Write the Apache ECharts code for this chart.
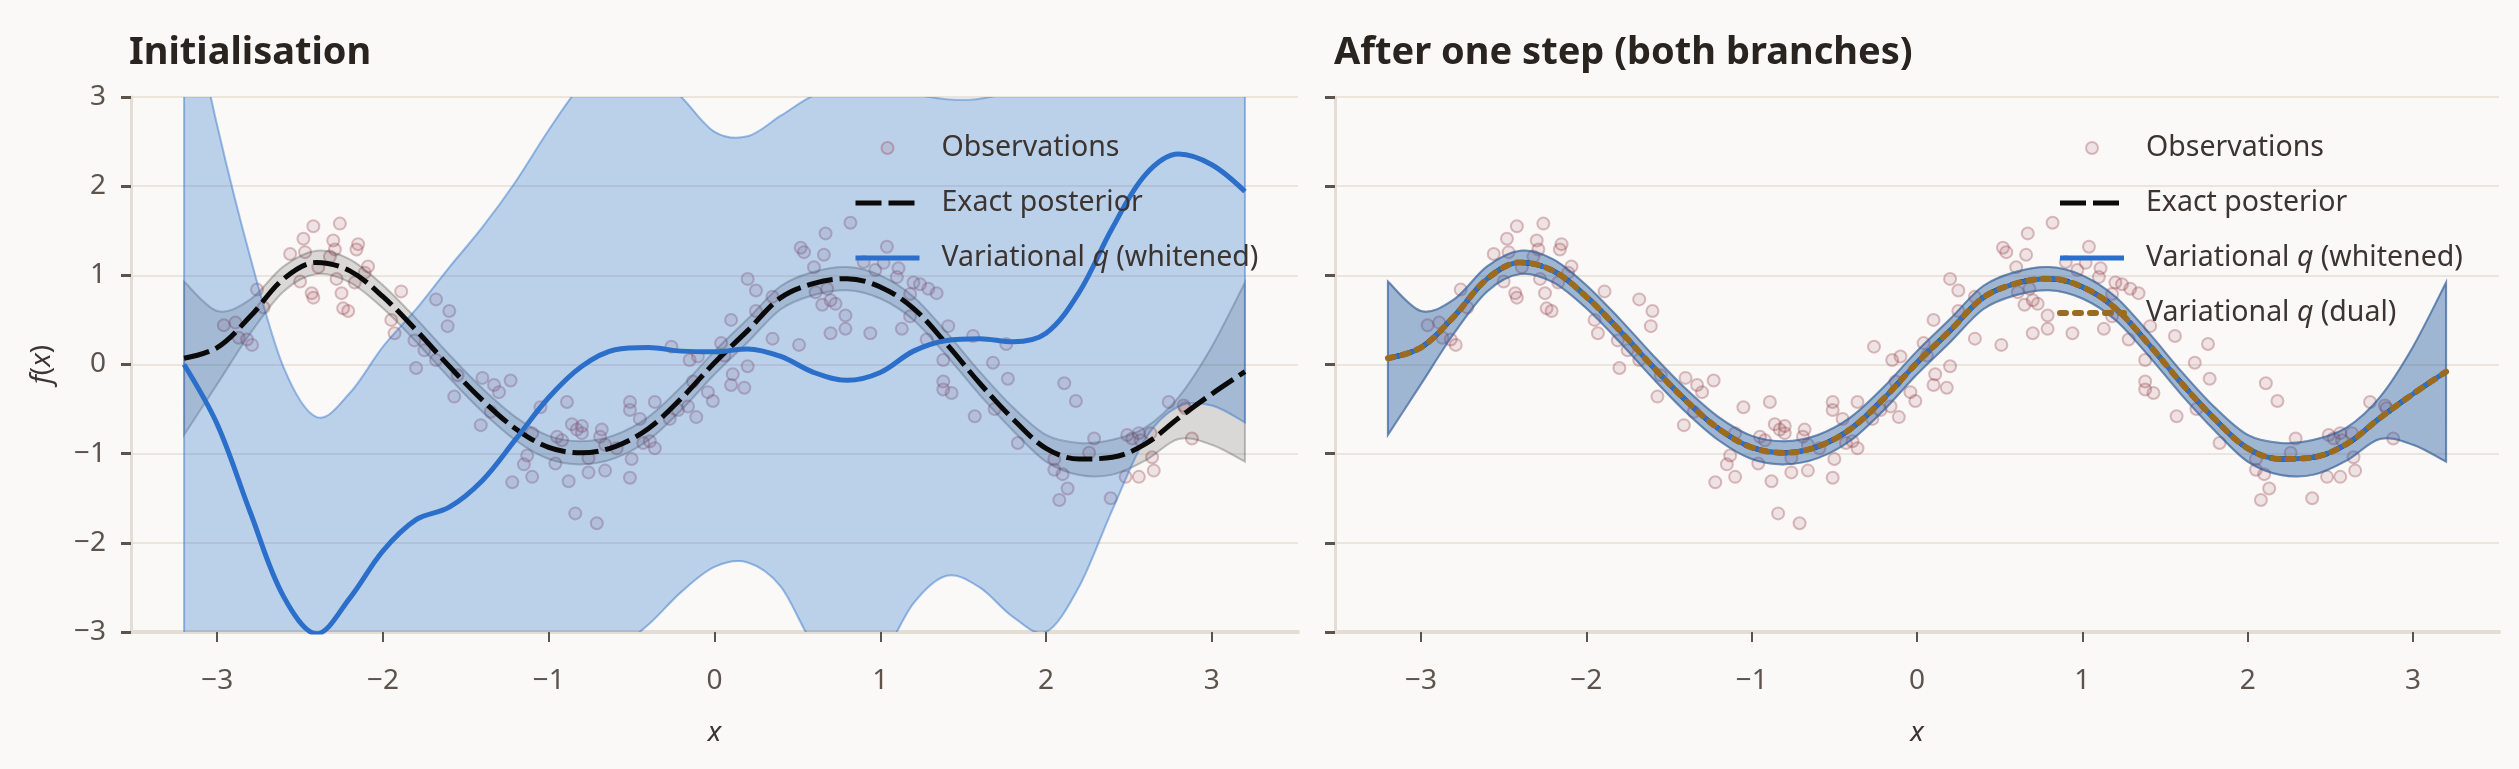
<!DOCTYPE html>
<html>
<head>
<meta charset="utf-8">
<title>Whitened vs dual variational posterior</title>
<script src="https://cdn.jsdelivr.net/npm/echarts@6.0.0/dist/echarts.min.js"></script>
<style>
  html, body { margin: 0; background: #faf9f7; }
  #chart { width: 2519px; height: 769px; }
</style>
</head>
<body>
<div id="chart"></div>
<script>
// x grid shared by every curve and band
const xs = [-3.2, -3.0, -2.8, -2.6, -2.4, -2.2, -2.0, -1.8, -1.6, -1.4, -1.2, -1.0, -0.8, -0.6, -0.4, -0.2, 0.0,
  0.2, 0.4, 0.6, 0.8, 1.0, 1.2, 1.4, 1.6, 1.8, 2.0, 2.2, 2.4, 2.6, 2.8, 3.0, 3.2];

// exact posterior mean and its band (also what both branches reach after one step)
const exactMean = [0.07, 0.19, 0.54, 0.96, 1.145, 1.05, 0.76, 0.385, -0.02, -0.40, -0.72, -0.93, -0.99, -0.92, -0.72, -0.38, 0.02,
  0.38, 0.75, 0.91, 0.963, 0.87, 0.63, 0.23, -0.21, -0.61, -0.94, -1.06, -1.04, -0.89, -0.60, -0.33, -0.08];
const exactUpper = [0.93, 0.60, 0.73, 1.10, 1.275, 1.18, 0.89, 0.515, 0.11, -0.27, -0.59, -0.80, -0.86, -0.79, -0.59, -0.25, 0.15,
  0.51, 0.88, 1.04, 1.093, 1.00, 0.76, 0.36, -0.08, -0.48, -0.79, -0.88, -0.845, -0.705, -0.365, 0.20, 0.92];
const exactLower = [-0.79, -0.22, 0.35, 0.82, 1.015, 0.92, 0.63, 0.255, -0.15, -0.53, -0.85, -1.06, -1.12, -1.05, -0.85, -0.51, -0.11,
  0.25, 0.62, 0.78, 0.833, 0.74, 0.50, 0.10, -0.34, -0.74, -1.09, -1.24, -1.235, -1.075, -0.835, -0.90, -1.09];

// whitened q at initialisation
const initMean = [0.0, -0.67, -1.66, -2.6, -3.02, -2.62, -2.09, -1.74, -1.60, -1.30, -0.84, -0.37, -0.02, 0.165, 0.19, 0.15, 0.142,
  0.175, 0.09, -0.09, -0.178, -0.09, 0.15, 0.27, 0.29, 0.255, 0.35, 0.81, 1.53, 2.13, 2.36, 2.24, 1.94];
const initUpper = [4.4, 2.68, 1.2, -0.03, -0.59, -0.32, 0.2, 0.62, 1.09, 1.54, 2.05, 2.63, 3.15, 3.5, 3.35, 3.0, 2.61,
  2.56, 2.79, 3.02, 3.12, 3.08, 3.03, 2.975, 2.98, 3.1, 3.5, 4.0, 4.4, 4.7, 4.9, 4.85, 4.6];
const initLower = [-3.6, -3.9, -4.5, -5.0, -5.4, -5.0, -4.6, -4.3, -4.1, -3.9, -3.7, -3.5, -3.35, -3.2, -2.92, -2.55, -2.27,
  -2.22, -2.49, -3.15, -3.45, -3.3, -2.68, -2.37, -2.5, -2.83, -3.0, -2.49, -1.63, -0.83, -0.47, -0.46, -0.65];

// noisy observations
const obsX = [
  -2.96, -2.89, -2.87, -2.82, -2.79, -2.76, -2.72, -2.56, -2.48, -2.47,
  -2.42, -2.50, -2.43, -2.42, -2.39, -2.32, -2.30, -2.29, -2.28, -2.26,
  -2.25, -2.24, -2.21, -2.17, -2.16, -2.15, -2.09, -2.11, -1.95, -1.93,
  -1.89, -1.81, -1.80, -1.75, -1.68, -1.68, -1.61, -1.60, -1.57, -1.55,
  -1.41, -1.40, -1.35, -1.33, -1.30, -1.23, -1.22, -1.15, -1.13, -1.10,
  -1.10, -1.05, -0.96, -0.95, -0.92, -0.89, -0.88, -0.86, -0.84, -0.83,
  -0.80, -0.80, -0.76, -0.76, -0.71, -0.68, -0.69, -0.66, -0.66, -0.59,
  -0.51, -0.51, -0.50, -0.51, -0.45, -0.43, -0.39, -0.36, -0.36, -0.26,
  -0.27, -0.22, -0.16, -0.15, -0.11, -0.10, -0.13, -0.04, -0.01,
  0.04, 0.06, 0.10, 0.11, 0.18, 0.20, 0.10, 0.20, 0.25, 0.25,
  0.35, 0.35, 0.51, 0.52, 0.54, 0.60, 0.61, 0.66, 0.67, 0.65,
  0.68, 0.70, 0.70, 0.73, 0.79, 0.79, 0.82, 0.90, 0.94, 0.97,
  1.04, 1.02, 1.11, 1.10, 1.13, 1.18, 1.18, 1.20, 1.24, 1.29,
  1.34, 1.28, 1.38, 1.38, 1.38, 1.43, 1.41, 1.56, 1.57, 1.68,
  1.69, 1.76, 1.77, 1.83, 2.05, 2.05, 2.10, 2.08, 2.13, 2.11,
  2.18, 2.26, 2.29, 2.39, 2.48, 2.49, 2.52, 2.56, 2.56, 2.57,
  2.63, 2.64, 2.65, 2.74, 2.83, 2.84, 2.88];
const obsY = [
  0.44, 0.47, 0.30, 0.28, 0.22, 0.84, 0.64, 1.24, 1.41, 1.26,
  1.55, 0.93, 0.80, 0.75, 1.09, 1.21, 1.39, 1.29, 0.96, 1.58,
  0.80, 0.63, 0.60, 0.92, 1.29, 1.35, 1.10, 1.03, 0.50, 0.35,
  0.82, 0.27, -0.04, 0.16, 0.73, 0.05, 0.43, 0.60, -0.36, -0.12,
  -0.68, -0.15, -0.53, -0.23, -0.31, -0.18, -1.32, -1.12, -1.02, -1.26,
  -0.77, -0.48, -1.11, -0.81, -0.85, -0.42, -1.31, -0.67, -1.67, -0.73,
  -0.69, -0.77, -1.21, -1.05, -1.78, -0.73, -0.81, -1.19, -0.90, -0.94,
  -0.42, -0.51, -1.06, -1.27, -0.61, -0.88, -0.86, -0.42, -0.94, 0.20,
  -0.61, -0.51, -0.47, 0.05, -0.59, 0.09, -0.19, -0.31, -0.41,
  0.24, 0.10, -0.23, -0.11, -0.26, -0.02, 0.50, 0.96, 0.83, 0.60,
  0.76, 0.29, 0.22, 1.31, 1.26, 1.09, 0.81, 1.23, 1.47, 0.67,
  0.85, 0.72, 0.35, 0.68, 0.55, 0.40, 1.59, 1.15, 0.35, 1.06,
  1.32, 1.14, 1.08, 0.98, 0.40, 0.79, 0.54, 0.92, 0.90, 0.85,
  0.80, 0.28, 0.05, -0.19, -0.28, -0.32, 0.43, 0.32, -0.58, 0.02,
  -0.50, 0.23, -0.16, -0.88, -1.06, -1.18, -1.23, -1.52, -1.39, -0.21,
  -0.41, -0.99, -0.83, -1.50, -1.26, -0.79, -0.83, -1.26, -0.77, -0.85,
  -0.77, -1.04, -1.19, -0.42, -0.46, -0.49, -0.83];

const xTicks = [-3, -2, -1, 0, 1, 2, 3];

const font = '"Noto Sans", "DejaVu Sans", sans-serif';
const tickColor = '#5c534d';
const textColor = '#3b3431';
const blue = '#2b6fca';
const black = '#0a0a0a';
const brown = '#9b6b20';
const exactDash = [26, 7];
const dualDash = [6, 9];
const minus = v => String(v).replace('-', '\u2212');

function pts(ys) {
  return xs.map((x, i) => [x, ys[i]]);
}

// Catmull-Rom through pixel points, as cubic bezier commands
function spline(p) {
  let d = '';
  for (let i = 0; i < p.length - 1; i++) {
    const p0 = p[Math.max(i - 1, 0)], p1 = p[i], p2 = p[i + 1], p3 = p[Math.min(i + 2, p.length - 1)];
    const c1 = [p1[0] + (p2[0] - p0[0]) / 6, p1[1] + (p2[1] - p0[1]) / 6];
    const c2 = [p2[0] - (p3[0] - p1[0]) / 6, p2[1] - (p3[1] - p1[1]) / 6];
    d += ' C' + c1 + ' ' + c2 + ' ' + p2;
  }
  return d;
}

// filled band between lo and hi, outlined like fill_between
function band(g, lo, hi, fill, edge) {
  return {
    type: 'custom', xAxisIndex: g, yAxisIndex: g, z: 2, silent: true, clip: true,
    data: [[0, 0]],
    renderItem: function (params, api) {
      const up = xs.map((x, i) => api.coord([x, hi[i]]));
      const dn = xs.map((x, i) => api.coord([x, lo[i]])).reverse();
      const d = 'M' + up[0] + spline(up) + ' L' + dn[0] + spline(dn) + ' Z';
      return {
        type: 'path',
        shape: { pathData: d },
        style: { fill: fill, stroke: edge, lineWidth: 2 }
      };
    }
  };
}

function curve(name, g, ys, color, width, type, cap) {
  return {
    type: 'line', name: name, xAxisIndex: g, yAxisIndex: g, data: pts(ys),
    smooth: 0.35, symbol: 'none', z: 3, silent: true,
    itemStyle: { color: color },
    lineStyle: { color: color, width: width, type: type, cap: cap || 'butt' }
  };
}

function obs(g) {
  return {
    type: 'scatter', name: 'Observations', xAxisIndex: g, yAxisIndex: g,
    data: obsX.map((x, i) => [x, obsY[i]]), symbolSize: 12, z: 1, silent: true,
    itemStyle: { color: 'rgba(150,60,70,0.15)', borderColor: 'rgba(150,60,70,0.4)', borderWidth: 2 }
  };
}

function xAxis(g) {
  return {
    type: 'value', gridIndex: g, min: -3.52, max: 3.52,
    name: 'x', nameLocation: 'middle', nameGap: 87,
    nameTextStyle: { fontSize: 28, fontStyle: 'italic', color: textColor, fontFamily: font },
    axisLine: { onZero: false, lineStyle: { color: '#e4ddd3', width: 4 } },
    axisTick: { customValues: xTicks, length: 10, lineStyle: { color: tickColor, width: 2 } },
    axisLabel: { customValues: xTicks, formatter: minus, fontSize: 28, color: tickColor, margin: 35, fontFamily: font },
    splitLine: { show: false }
  };
}

function yAxis(g) {
  const ax = {
    type: 'value', gridIndex: g, min: -3, max: 3, interval: 1,
    axisLine: { show: true, onZero: false, lineStyle: { color: '#e4ddd3', width: 3 } },
    axisTick: { show: true, length: 10, lineStyle: { color: tickColor, width: 3 } },
    axisLabel: { show: g === 0, formatter: minus, fontSize: 28, color: tickColor, margin: 25, fontFamily: font },
    splitLine: { show: true, lineStyle: { color: '#ebe5de', width: 2 } }
  };
  if (g === 0) {
    ax.name = '{i|f}({i|x})';
    ax.nameLocation = 'middle';
    ax.nameGap = 75;
    ax.nameTextStyle = {
      fontSize: 28, color: textColor, fontFamily: font,
      rich: { i: { fontSize: 28, fontStyle: 'italic', color: textColor, fontFamily: font } }
    };
  }
  return ax;
}

const legendItems = {
  obs: { name: 'Observations' },
  exact: { name: 'Exact posterior', itemStyle: { opacity: 0 }, lineStyle: { color: black, width: 5, type: exactDash } },
  white: { name: 'Variational q (whitened)', itemStyle: { opacity: 0 }, lineStyle: { color: blue, width: 5, type: 'solid' } },
  dual: { name: 'Variational q (dual)', itemStyle: { opacity: 0 }, lineStyle: { color: brown, width: 6, type: dualDash, cap: 'round' } }
};

function legend(left, items) {
  return {
    left: left, top: 133, orient: 'vertical', padding: 0,
    itemWidth: 64, itemHeight: 12, itemGap: 25, selectedMode: false,
    data: items,
    formatter: n => n.replace(' q ', ' {i|q} '),
    textStyle: {
      fontSize: 28.5, color: textColor, fontFamily: font, lineHeight: 30, padding: [0, 0, 0, 17],
      rich: { i: { fontSize: 28.5, fontStyle: 'italic', color: textColor, fontFamily: font, lineHeight: 30 } }
    }
  };
}

const chart = echarts.init(document.getElementById('chart'));

chart.setOption({
  backgroundColor: '#faf9f7',
  animation: false,
  title: [
    { text: 'Initialisation', left: 129, top: 34, padding: 0,
      textStyle: { fontSize: 38, fontWeight: 'bold', color: '#2a2421', fontFamily: font } },
    { text: 'After one step (both branches)', left: 1334, top: 34, padding: 0,
      textStyle: { fontSize: 38, fontWeight: 'bold', color: '#2a2421', fontFamily: font } }
  ],
  legend: [
    legend(853, [legendItems.obs, legendItems.exact, legendItems.white]),
    legend(2057, [legendItems.obs, legendItems.exact, legendItems.white, legendItems.dual])
  ],
  grid: [
    { left: 131, right: 1221, top: 97, bottom: 137 },
    { left: 1335, right: 20, top: 97, bottom: 137 }
  ],
  xAxis: [xAxis(0), xAxis(1)],
  yAxis: [yAxis(0), yAxis(1)],
  series: [
    obs(0),
    band(0, exactLower, exactUpper, 'rgba(0,0,0,0.13)', 'rgba(60,60,60,0.3)'),
    band(0, initLower, initUpper, 'rgba(43,111,202,0.3)', 'rgba(43,111,202,0.45)'),
    curve('Exact posterior', 0, exactMean, black, 5, exactDash),
    curve('Variational q (whitened)', 0, initMean, blue, 5, 'solid'),

    obs(1),
    band(1, exactLower, exactUpper, 'rgba(0,0,0,0.13)', 'rgba(60,60,60,0.3)'),
    band(1, exactLower, exactUpper, 'rgba(43,111,202,0.33)', 'rgba(50,100,170,0.55)'),
    curve('Exact posterior', 1, exactMean, black, 5, exactDash),
    curve('Variational q (whitened)', 1, exactMean, blue, 5, 'solid'),
    curve('Variational q (dual)', 1, exactMean, brown, 6, dualDash, 'round')
  ]
});
</script>
</body>
</html>
